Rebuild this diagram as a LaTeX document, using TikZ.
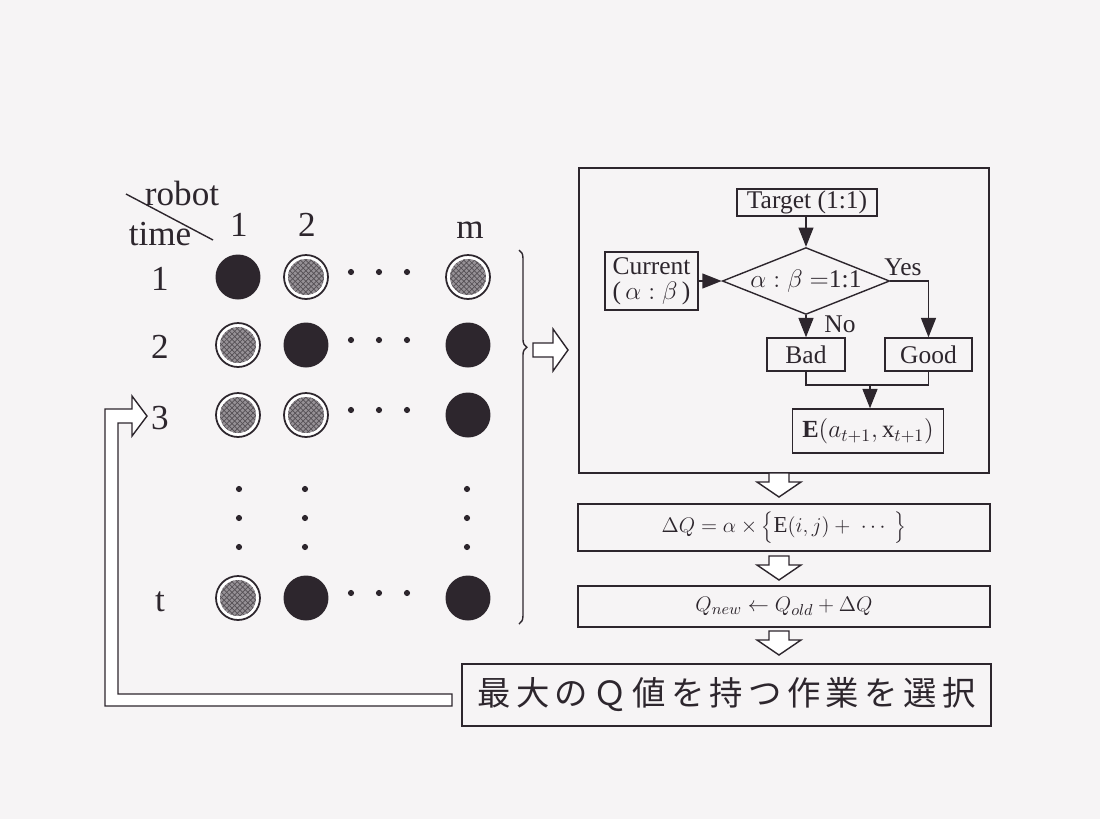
\documentclass[tikz,border=0pt]{standalone}
\usepackage{fontspec}
\setmainfont{Liberation Serif}
\newfontfamily\jpfont{Noto Sans CJK JP}[LetterSpace=16]
\usetikzlibrary{shapes.geometric,arrows.meta,decorations.pathreplacing,patterns}
\definecolor{ink}{RGB}{45,38,45}
\definecolor{paper}{RGB}{246,244,245}
\definecolor{hatch}{RGB}{150,145,150}
\definecolor{hatchdark}{RGB}{85,80,85}
\begin{document}
\begin{tikzpicture}[x=0.02cm,y=-0.02cm, line width=0.8pt, draw=ink, text=ink,
  box/.style={draw=ink, rectangle, inner sep=0pt, line width=0.8pt},
  lab/.style={font=\fontsize{20}{22}\selectfont, inner sep=0pt},
  ftext/.style={font=\fontsize{14.5}{16}\selectfont},
  arr/.style={-{Triangle[length=11pt,width=8.5pt]}, line width=0.8pt, draw=ink},
  blackdot/.style={circle, fill=ink, minimum size=0.9cm, inner sep=0pt},
  hatchdot/.style={circle, draw=ink, line width=1pt, minimum size=0.88cm, inner sep=0pt, fill=white,
    path picture={\fill[hatch] (path picture bounding box.center) circle (0.36cm);
      \fill[pattern=crosshatch, pattern color=hatchdark] (path picture bounding box.center) circle (0.36cm);}},
  smalldot/.style={circle, fill=ink, minimum size=3.5pt, inner sep=0pt},
  hollow/.style={draw=ink, line width=0.8pt, fill=white, line join=miter},
  hdown/.pic={\draw[hollow] (-10,0)--(10,0)--(10,9)--(22,9)--(0,24)--(-22,9)--(-10,9)--cycle;}]

\fill[paper] (0,0) rectangle (1100,819);
\useasboundingbox (0,0) rectangle (1100,819);

% ---------- left table ----------
\node[lab] (robot) at (182,193) {robot};
\node[lab] (time) at (160,234) {time};
\coordinate (d1) at (126,194);
\coordinate (d2) at (213,240);
\draw[ink] (d1) -- (d2);

\node[lab] (h1) at (239,225) {1};
\node[lab] (h2) at (307,225) {2};
\node[lab] (hm) at (470,230) {m};

\node[lab] (r1) at (160,279) {1};
\node[lab] (r2) at (160,347) {2};
\node[lab] (r3) at (160,418) {3};
\node[lab] (rt) at (160,602) {t};

% row 1
\node[blackdot] (c11) at (238,277) {};
\node[hatchdot] (c12) at (306,277) {};
\node[hatchdot] (c1m) at (468,277) {};
% row 2
\node[hatchdot] (c21) at (238,345) {};
\node[blackdot] (c22) at (306,345) {};
\node[blackdot] (c2m) at (468,345) {};
% row 3
\node[hatchdot] (c31) at (238,415) {};
\node[hatchdot] (c32) at (306,415) {};
\node[blackdot] (c3m) at (468,415) {};
% row t
\node[hatchdot] (ct1) at (238,598) {};
\node[blackdot] (ct2) at (306,598) {};
\node[blackdot] (ctm) at (468,598) {};

% horizontal dots
\foreach \yy/\nm in {272/a,340/b,410/c,593/d}{
  \node[smalldot] (hd1\nm) at (351,\yy) {};
  \node[smalldot] (hd2\nm) at (379,\yy) {};
  \node[smalldot] (hd3\nm) at (407,\yy) {};
}
% vertical dots
\foreach \xx/\nm in {239/a,305/b,467/c}{
  \node[smalldot] (vd1\nm) at (\xx,489) {};
  \node[smalldot] (vd2\nm) at (\xx,518) {};
  \node[smalldot] (vd3\nm) at (\xx,547) {};
}

% brace and hollow arrow
\coordinate (br1) at (519,250);
\coordinate (br2) at (519,624);
\draw[ink, decorate, decoration={brace, amplitude=4.5pt, aspect=0.26}] (br1) -- (br2);
\draw[hollow] (533,343)--(553,343)--(553,329)--(568,350)--(553,371)--(553,357)--(533,357)--cycle;

% ---------- flowchart ----------
\node[box, minimum width=8.2cm, minimum height=6.1cm] (loop) at (784,320.5) {};
\node[box, ftext, minimum width=2.8cm, minimum height=0.54cm] (tgt) at (807,202.5) {Target (1:1)};
\node[draw=ink, diamond, line width=0.8pt, inner sep=0pt, aspect=2.5, minimum width=3.18cm, minimum height=1.26cm, ftext] (dia) at (806,281) {$\alpha:\beta=$1:1};
\node[box, ftext, align=center, minimum width=1.86cm, minimum height=1.16cm] (cur) at (651.5,281) {Current\\[-2pt](\,$\alpha:\beta$\,)};
\node[box, ftext, minimum width=1.56cm, minimum height=0.66cm] (bad) at (806,354.5) {Bad};
\node[box, ftext, minimum width=1.74cm, minimum height=0.66cm] (good) at (928.5,354.5) {Good};
\node[box, font=\fontsize{14}{16}\selectfont, minimum width=3.02cm, minimum height=0.88cm] (ebox) at (868,431) {$\mathbf{E}\Big(a_{t+1},\mathrm{x}_{t+1}\Big)$};

\draw[arr] (tgt.south -| dia.north) -- (dia.north);
\draw[arr] (cur.east) -- (dia.west);
\draw[arr] (dia.south) -- (bad.north);
\draw[arr] (dia.east) -| (good.north);
\node[ftext, inner sep=0pt] (yes) at (903,267) {Yes};
\node[ftext, inner sep=0pt] (no) at (840,324) {No};
\coordinate (mj) at (870,385);
\draw[ink] (bad.south) |- (mj) -| (good.south);
\draw[arr] (mj) -- (mj |- ebox.north);

% ---------- update chain ----------
\pic at (779,473) {hdown};
\node[box, font=\fontsize{13}{15}\selectfont, minimum width=8.24cm, minimum height=0.94cm] (dq) at (784,527.5) {$\Delta Q=\alpha\times\Big\{\mathrm{E}(i,j)+\ \cdots\ \Big\}$};
\pic at (779,556) {hdown};
\node[box, font=\fontsize{13}{15}\selectfont, minimum width=8.24cm, minimum height=0.82cm] (qn) at (784,606.5) {$Q_{new}\leftarrow Q_{old}+\Delta Q$};
\pic at (779,631) {hdown};
\node[box, font=\fontsize{19}{21}\selectfont, minimum width=10.58cm, minimum height=1.24cm] (sel) at (726.5,695) {\jpfont 最大のＱ値を持つ作業を選択};

% feedback hollow arrow
\draw[hollow] (452,694) -- (118,694) -- (118,423) -- (132,423) -- (132,436) -- (147,416) -- (132,396) -- (132,409) -- (105,409) -- (105,706) -- (452,706) -- cycle;

\end{tikzpicture}
\end{document}
